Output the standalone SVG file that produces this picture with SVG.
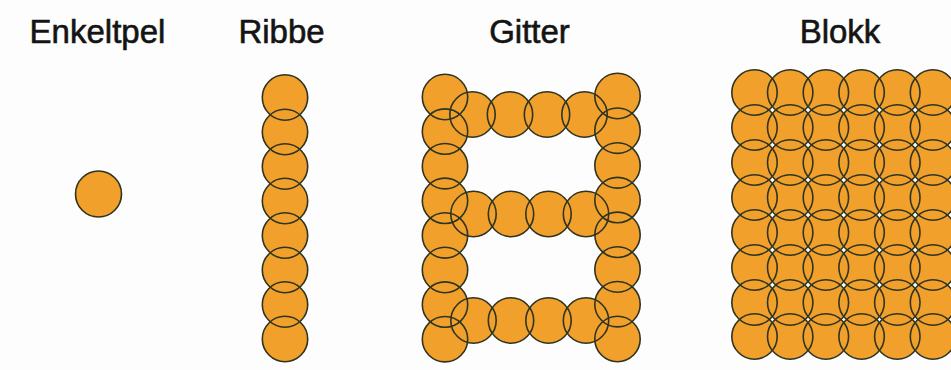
<svg xmlns="http://www.w3.org/2000/svg" xmlns:xlink="http://www.w3.org/1999/xlink" width="951" height="370" viewBox="0 0 951 370">
  <style>
    .label { font-family: "Liberation Sans", Arial, sans-serif; font-size: 33px; fill: #141414; stroke: #141414; stroke-width: 0.6; text-anchor: middle; }
    .fill { fill: #F2A02C; stroke: none; }
    .line { fill: none; stroke: #2e3420; stroke-width: 1.6; }
  </style>
  <defs>
    <g id="p-enkelt">
      <circle cx="98.5" cy="194" r="23"/>
    </g>
    <g id="p-ribbe">
      <circle cx="285" cy="97.5" r="22.7"/>
      <circle cx="285" cy="132" r="22.7"/>
      <circle cx="285" cy="166.5" r="22.7"/>
      <circle cx="285" cy="201" r="22.7"/>
      <circle cx="285" cy="235.5" r="22.7"/>
      <circle cx="285" cy="270" r="22.7"/>
      <circle cx="285" cy="304.5" r="22.7"/>
      <circle cx="285" cy="339" r="22.7"/>
    </g>
    <g id="p-gitter">
      <circle cx="445" cy="97" r="22.7"/>
      <circle cx="445" cy="131.6" r="22.7"/>
      <circle cx="445" cy="166.2" r="22.7"/>
      <circle cx="445" cy="200.8" r="22.7"/>
      <circle cx="445" cy="235.4" r="22.7"/>
      <circle cx="445" cy="270" r="22.7"/>
      <circle cx="445" cy="304.6" r="22.7"/>
      <circle cx="445" cy="339.2" r="22.7"/>
      <circle cx="617.5" cy="96" r="22.7"/>
      <circle cx="617.5" cy="130.7" r="22.7"/>
      <circle cx="617.5" cy="165.4" r="22.7"/>
      <circle cx="617.5" cy="200.1" r="22.7"/>
      <circle cx="617.5" cy="234.8" r="22.7"/>
      <circle cx="617.5" cy="269.5" r="22.7"/>
      <circle cx="617.5" cy="304.2" r="22.7"/>
      <circle cx="617.5" cy="339" r="22.7"/>
      <circle cx="472.5" cy="114.5" r="22.7"/>
      <circle cx="510" cy="114.5" r="22.7"/>
      <circle cx="547" cy="114.5" r="22.7"/>
      <circle cx="584.5" cy="114.5" r="22.7"/>
      <circle cx="473.5" cy="214" r="22.7"/>
      <circle cx="511" cy="214" r="22.7"/>
      <circle cx="548.5" cy="214" r="22.7"/>
      <circle cx="586" cy="214" r="22.7"/>
      <circle cx="473.5" cy="320.5" r="22.7"/>
      <circle cx="511" cy="320.5" r="22.7"/>
      <circle cx="548.5" cy="320.5" r="22.7"/>
      <circle cx="586" cy="320.5" r="22.7"/>
    </g>
    <g id="blokk-row">
      <circle cx="754.5" cy="0" r="22.7"/>
      <circle cx="790.2" cy="0" r="22.7"/>
      <circle cx="825.9" cy="0" r="22.7"/>
      <circle cx="861.6" cy="0" r="22.7"/>
      <circle cx="897.3" cy="0" r="22.7"/>
      <circle cx="933" cy="0" r="22.7"/>
    </g>
    <g id="p-blokk">
      <use xlink:href="#blokk-row" y="92.5"/>
      <use xlink:href="#blokk-row" y="127.5"/>
      <use xlink:href="#blokk-row" y="162.5"/>
      <use xlink:href="#blokk-row" y="197.5"/>
      <use xlink:href="#blokk-row" y="232.5"/>
      <use xlink:href="#blokk-row" y="267.5"/>
      <use xlink:href="#blokk-row" y="302.5"/>
      <use xlink:href="#blokk-row" y="336.5"/>
    </g>
  </defs>
  <rect width="951" height="370" fill="#fdfdfd"/>

  <g id="enkeltpel">
    <text class="label" x="97.5" y="43">Enkeltpel</text>
    <use class="fill" xlink:href="#p-enkelt"/>
    <use class="line" xlink:href="#p-enkelt"/>
  </g>

  <g id="ribbe">
    <text class="label" x="281.5" y="43">Ribbe</text>
    <use class="fill" xlink:href="#p-ribbe"/>
    <use class="line" xlink:href="#p-ribbe"/>
  </g>

  <g id="gitter">
    <text class="label" x="529.5" y="43">Gitter</text>
    <use class="fill" xlink:href="#p-gitter"/>
    <use class="line" xlink:href="#p-gitter"/>
  </g>

  <g id="blokk">
    <text class="label" x="840" y="43">Blokk</text>
    <use class="fill" xlink:href="#p-blokk"/>
    <use class="line" xlink:href="#p-blokk"/>
  </g>

  <g id="connectors"></g>
</svg>
